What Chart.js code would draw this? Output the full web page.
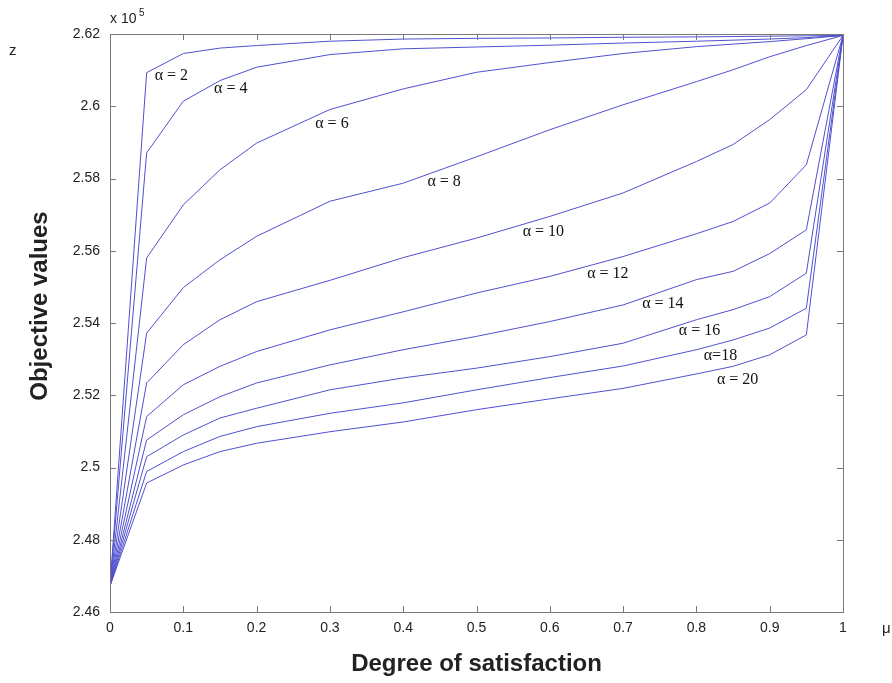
<!DOCTYPE html>
<html>
<head>
<meta charset="utf-8">
<script src="https://cdn.jsdelivr.net/npm/chart.js@4.4.1/dist/chart.umd.min.js"></script>
<style>
  body { margin: 0; background: #fff; }
  canvas { display: block; }
</style>
</head>
<body>
<canvas id="chart" width="892" height="683"></canvas>
<script>
// degree of satisfaction (x) and objective values z (x 10^5) for each alpha
const mu = [0, 0.05, 0.1, 0.15, 0.2, 0.3, 0.4, 0.5, 0.6, 0.7, 0.8, 0.85, 0.9, 0.95, 1];
const a2  = [2.4672, 2.6093, 2.6146, 2.6161, 2.6168, 2.6180, 2.6186, 2.6188, 2.6189, 2.6191, 2.6192, 2.6193, 2.6194, 2.6195, 2.6196];
const a4  = [2.4672, 2.5871, 2.6014, 2.6071, 2.6108, 2.6143, 2.6159, 2.6164, 2.6169, 2.6175, 2.6180, 2.6183, 2.6186, 2.6190, 2.6196];
const a6  = [2.4672, 2.5580, 2.5727, 2.5824, 2.5898, 2.5991, 2.6048, 2.6094, 2.6121, 2.6146, 2.6165, 2.6172, 2.6179, 2.6187, 2.6196];
const a8  = [2.4672, 2.5372, 2.5498, 2.5575, 2.5640, 2.5737, 2.5787, 2.5860, 2.5935, 2.6004, 2.6068, 2.6101, 2.6137, 2.6168, 2.6196];
const a10 = [2.4672, 2.5234, 2.5340, 2.5409, 2.5459, 2.5518, 2.5581, 2.5635, 2.5695, 2.5760, 2.5847, 2.5894, 2.5963, 2.6046, 2.6196];
const a12 = [2.4672, 2.5141, 2.5229, 2.5280, 2.5321, 2.5381, 2.5431, 2.5483, 2.5529, 2.5584, 2.5647, 2.5681, 2.5732, 2.5838, 2.6196];
const a14 = [2.4672, 2.5076, 2.5146, 2.5196, 2.5234, 2.5284, 2.5326, 2.5363, 2.5404, 2.5450, 2.5520, 2.5543, 2.5592, 2.5658, 2.6196];
const a16 = [2.4672, 2.5030, 2.5090, 2.5137, 2.5164, 2.5215, 2.5248, 2.5275, 2.5307, 2.5344, 2.5409, 2.5437, 2.5473, 2.5538, 2.6196];
const a18 = [2.4672, 2.4989, 2.5044, 2.5086, 2.5113, 2.5150, 2.5179, 2.5215, 2.5249, 2.5281, 2.5326, 2.5353, 2.5386, 2.5441, 2.6196];
const a20 = [2.4672, 2.4957, 2.5007, 2.5044, 2.5067, 2.5099, 2.5126, 2.5160, 2.5190, 2.5219, 2.5259, 2.5280, 2.5312, 2.5367, 2.6196];
const series = [a2, a4, a6, a8, a10, a12, a14, a16, a18, a20];

// curve labels, placed in data units
const labelText = ['α = 2', 'α = 4', 'α = 6', 'α = 8', 'α = 10', 'α = 12', 'α = 14', 'α = 16', 'α=18', 'α = 20'];
const labelMu = [0.061, 0.142, 0.280, 0.433, 0.563, 0.651, 0.726, 0.776, 0.810, 0.828];
const labelZ  = [2.6085, 2.6047, 2.5952, 2.5791, 2.5653, 2.5536, 2.5453, 2.5378, 2.5309, 2.5242];

const lineColor = '#5050d0';
const sans = '"Liberation Sans", Arial, sans-serif';

const fmt = v => String(Math.round(v * 100) / 100);

// inward ticks, box, curve labels and the odd bits of text
const extras = {
  id: 'extras',
  afterDraw(chart) {
    const ctx = chart.ctx;
    const {left, right, top, bottom} = chart.chartArea;
    const x = chart.scales.x, y = chart.scales.y;
    ctx.save();
    ctx.strokeStyle = '#7a7a7a';
    ctx.lineWidth = 1;
    ctx.beginPath();
    x.ticks.forEach(t => {
      const px = Math.round(x.getPixelForValue(t.value)) + 0.5;
      ctx.moveTo(px, bottom); ctx.lineTo(px, bottom - 6);
      ctx.moveTo(px, top); ctx.lineTo(px, top + 6);
    });
    y.ticks.forEach(t => {
      const py = Math.round(y.getPixelForValue(t.value)) + 0.5;
      ctx.moveTo(left, py); ctx.lineTo(left + 6, py);
      ctx.moveTo(right, py); ctx.lineTo(right - 6, py);
    });
    ctx.stroke();
    ctx.strokeRect(Math.round(left) + 0.5, Math.round(top) + 0.5, Math.round(right - left), Math.round(bottom - top));

    ctx.fillStyle = '#111';
    ctx.font = '16px "Liberation Serif", "DejaVu Serif", serif';
    ctx.textAlign = 'left';
    ctx.textBaseline = 'middle';
    labelText.forEach((s, i) => {
      ctx.fillText(s, x.getPixelForValue(labelMu[i]), y.getPixelForValue(labelZ[i]));
    });

    ctx.fillStyle = '#222';
    ctx.font = '14px ' + sans;
    ctx.fillText('x 10', left, top - 15);
    ctx.font = '10px ' + sans;
    ctx.fillText('5', left + 29, top - 21);
    ctx.font = '15px ' + sans;
    ctx.fillText('z', 9, 51);
    ctx.fillText('μ', 882, y.getPixelForValue(2.46) + 17);

    // y axis title, a bit above the plot centre like the original
    ctx.font = 'bold 24px ' + sans;
    ctx.textAlign = 'center';
    ctx.translate(40, (top + bottom) / 2 - 17);
    ctx.rotate(-Math.PI / 2);
    ctx.fillText('Objective values', 0, 0);
    ctx.restore();
  }
};

new Chart(document.getElementById('chart'), {
  type: 'line',
  data: {
    datasets: series.map((s, i) => ({
      label: labelText[i],
      data: s.map((v, j) => ({x: mu[j], y: v})),
      borderColor: lineColor,
      borderWidth: 1,
      pointRadius: 0,
      tension: 0,
      fill: false
    }))
  },
  options: {
    responsive: false,
    animation: false,
    devicePixelRatio: 1,
    layout: { padding: { top: 34, right: 49, left: 0, bottom: 0 } },
    plugins: { legend: { display: false }, tooltip: { enabled: false } },
    scales: {
      x: {
        type: 'linear',
        min: 0, max: 1,
        afterFit: s => { s.height = 71; },
        grid: { display: false, drawTicks: false },
        border: { display: false },
        ticks: {
          stepSize: 0.1, padding: 8, color: '#222',
          font: { family: sans, size: 14 },
          callback: fmt, maxRotation: 0
        },
        title: {
          display: true, text: 'Degree of satisfaction', color: '#222',
          font: { family: sans, size: 24, weight: 'bold' },
          padding: { top: 4, bottom: 4 }
        }
      },
      y: {
        min: 2.46, max: 2.62,
        afterFit: s => { s.width = 110; },
        grid: { display: false, drawTicks: false },
        border: { display: false },
        ticks: {
          stepSize: 0.02, padding: 10, color: '#222',
          font: { family: sans, size: 14 },
          callback: fmt
        }
      }
    }
  },
  plugins: [extras]
});
</script>
</body>
</html>
